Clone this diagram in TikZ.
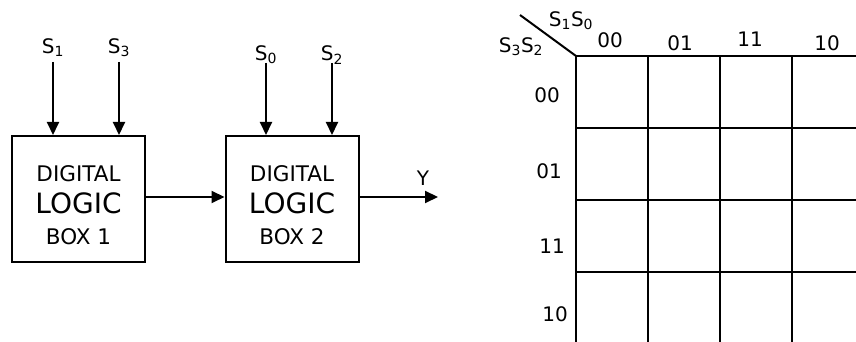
\documentclass[tikz,border=0pt]{standalone}
\usepackage{fontspec}
\setmainfont{DejaVu Sans}
\usetikzlibrary{arrows.meta, positioning}

\newcommand{\sig}[1]{S\textsubscript{#1}}

\begin{document}
\begin{tikzpicture}[x=1pt, y=1pt,
          logicbox/.style={draw, line width=2pt, minimum width=133pt,
                           minimum height=126pt, inner sep=0pt, align=center,
                           font=\fontsize{21.5}{31.5}\selectfont},
          lbl/.style={inner sep=0pt, font=\fontsize{20}{20}\selectfont},
          arr/.style={-{Triangle[length=13pt, width=12pt]}, line width=2pt},
          grid/.style={line width=2pt}
        ]
        \useasboundingbox (0,0) rectangle (856,342);

        % logic boxes
        \node[logicbox] (box1) at (78.5,143)
              {\rule{0pt}{29pt}DIGITAL\\{\fontsize{28}{31.5}\selectfont LOGIC}\\BOX 1};
        \node[logicbox] (box2) at (292,143)
              {\rule{0pt}{29pt}DIGITAL\\{\fontsize{28}{31.5}\selectfont LOGIC}\\BOX 2};

        % inputs
        \node[lbl] (s1) at (53,294) {\sig{1}};
        \node[lbl] (s3) at (119,294) {\sig{3}};
        \node[lbl] (s0) at (266,287) {\sig{0}};
        \node[lbl] (s2) at (332,287) {\sig{2}};
        \coordinate (s1top) at (53,280);
        \coordinate (s3top) at (119,280);
        \coordinate (s0top) at (266,279);
        \coordinate (s2top) at (332,279);

        \draw[arr] (s1top) -- (s1top |- box1.north);
        \draw[arr] (s3top) -- (s3top |- box1.north);
        \draw[arr] (s0top) -- (s0top |- box2.north);
        \draw[arr] (s2top) -- (s2top |- box2.north);

        % outputs
        \coordinate (yend) at (438,145);
        \draw[arr] ([yshift=2pt]box1.east) -- ([yshift=2pt]box2.west);
        \draw[arr] ([yshift=2pt]box2.east) -- (yend);
        \node[lbl] (y) at (423,164) {Y};

        % K-map
        \coordinate (kcorner) at (576,286);
        \coordinate (kdiag) at (520,327);
        \draw[grid] (kdiag) -- (kcorner);
        \foreach \c in {0,1,2,3}
          \draw[grid] (576+72*\c,286) -- (576+72*\c,0);
        \foreach \r in {0,1,2,3}
          \draw[grid] (576,286-72*\r) -- (856,286-72*\r);

        \node[lbl] (colvar) at (571,321) {\sig{1}\sig{0}};
        \node[lbl] (rowvar) at (521,295) {\sig{3}\sig{2}};

        \node[lbl] (c00) at (610,302) {00};
        \node[lbl] (c01) at (680,299) {01};
        \node[lbl] (c11) at (750,303) {11};
        \node[lbl] (c10) at (827,299) {10};

        \node[lbl] (r00) at (547,247) {00};
        \node[lbl] (r01) at (549,171) {01};
        \node[lbl] (r11) at (552,96) {11};
        \node[lbl] (r10) at (555,28) {10};
      \end{tikzpicture}
\end{document}
